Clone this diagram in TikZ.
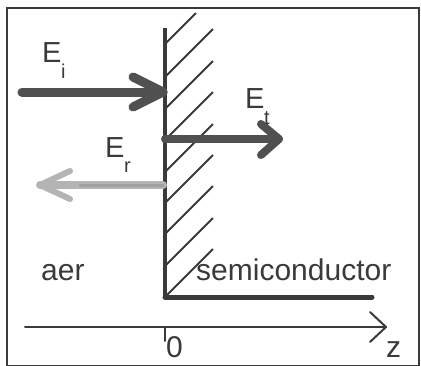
\documentclass[tikz,border=0pt]{standalone}
\usepackage{fontspec}
\setmainfont{Liberation Sans}
\definecolor{ink}{HTML}{3A3A3A}
\definecolor{arr}{HTML}{505050}
\definecolor{refl}{HTML}{B4B4B4}
\begin{document}
\begin{tikzpicture}[x=1pt,y=-1pt,
  txt/.style={inner sep=0pt, anchor=base west, text=ink, font=\fontsize{30}{30}\selectfont},
  elbl/.style={inner sep=0pt, anchor=base west, text=ink, font=\fontsize{29}{29}\selectfont},
  sub/.style={inner sep=0pt, anchor=base west, text=ink, font=\fontsize{20}{20}\selectfont},
  frame/.style={draw=ink, line width=2pt},
  wall/.style={draw=ink, line width=4pt},
  hatch/.style={draw=ink, line width=2pt},
  bigarrow/.style={line width=#1, line cap=round, line join=round},
  axis/.style={draw=ink, line width=2pt, line cap=round, line join=round}]
\useasboundingbox (0,0) rectangle (421,365);
\fill[white] (0,0) rectangle (421,365);
% frame
\draw[frame] (7,8) rectangle (419,366);
% hatching
\foreach \ly in {296,265,233,202,171,139,108,76}{
  \draw[hatch] (166,\ly) -- ++(47,-47);
}
\draw[hatch] (166,43) -- (196,13);
% wall
\coordinate (wtop) at (165,28);
\coordinate (wcorner) at (165,297);
\coordinate (wend) at (372,297);
\draw[wall] (wtop) -- (wcorner);
\draw[draw=ink, line width=5pt, line cap=round] (wcorner) -- (wend);
% incident arrow
\coordinate (is) at (22,92);
\coordinate (it) at (163,92);
\draw[arr, bigarrow=9pt] (is) -- (it);
\draw[arr, bigarrow=9pt] (133,77) -- (it) -- (133,107);
\node[elbl] (Ei) at (42,62) {E};
\node[sub] (Eisub) at (61,78) {i};
% transmitted arrow
\coordinate (ts) at (165,139);
\coordinate (tt) at (279,139);
\draw[arr, bigarrow=8pt] (ts) -- (tt);
\draw[arr, bigarrow=8pt] (261,124) -- (tt) -- (261,155);
\node[elbl] (Et) at (245,108) {E};
\node[sub] (Etsub) at (264,124) {t};
% reflected arrow
\coordinate (rs) at (163,185);
\coordinate (rt) at (40,185);
\draw[refl, bigarrow=8pt] (rs) -- (rt);
\draw[refl, bigarrow=6pt] (70,171) -- (rt) -- (70,199);
\draw[gray!75, line width=3pt, line cap=round] (rs) -- (80,185);
\node[elbl] (Er) at (105,157) {E};
\node[sub] (Ersub) at (124,172) {r};
% media labels
\node[txt] (aer) at (41,280) {aer};
\node[txt] (semi) at (196,280) {semiconductor};
% axis
\coordinate (as) at (25,327);
\coordinate (ae) at (386,327);
\coordinate (tick0) at (165,327);
\coordinate (tick1) at (165,341);
\draw[axis] (as) -- (ae);
\draw[axis] (370,312) -- (ae) -- (370,342);
\draw[axis] (tick0) -- (tick1);
\node[txt] (zero) at (166,357) {0};
\node[txt] (z) at (386,357) {z};
\end{tikzpicture}
\end{document}
